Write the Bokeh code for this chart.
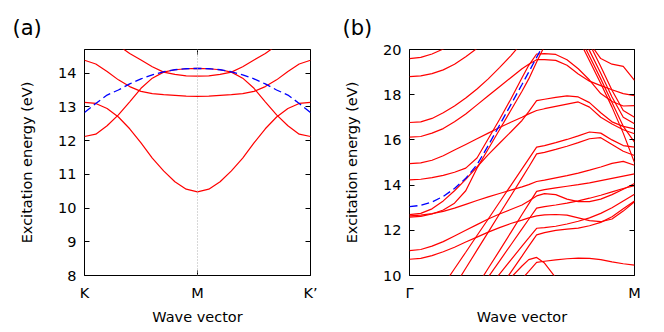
import numpy as np
from bokeh.plotting import figure
from bokeh.models import Range1d, FixedTicker, LinearAxis, Span
from bokeh.layouts import row
from bokeh.embed import file_html
from bokeh.resources import INLINE

FONT = "DejaVu Sans"
RED = "#ff0000"
BLUE = "#0000ff"
N = None

# ---------------- panel (a): K -> M (M -> K' is the mirror image) ----------------
a_k = [0.0, 0.1, 0.2, 0.3, 0.4, 0.5, 0.6, 0.7, 0.8, 0.9, 1.0]
a_ticks = [0, 1, 2]
a_tick_labels = ["K", "M", "K\u2019"]
a_yticks = [8, 9, 10, 11, 12, 13, 14]
a_red_1 = [13.13, 13.10, 12.95, 12.70, 12.35, 11.93, 11.48, 11.10, 10.78, 10.56, 10.48]
a_red_2 = [12.12, 12.19, 12.44, 12.76, 13.15, 13.55, 13.85, 14.03, 14.10, 14.13, 14.14]
a_red_3 = [14.38, 14.27, 14.05, 13.80, 13.60, 13.46, 13.39, 13.36, 13.34, 13.32, 13.31]
a_red_4 = [N, N, 15.05, 14.82, 14.58, 14.39, 14.19, 14.03, 13.96, 13.92, 13.91]
a_blue = [12.83, 13.10, 13.35, 13.50, 13.68, 13.83, 13.95, 14.04, 14.10, 14.13, 14.14]

# ---------------- panel (b): Gamma -> M ----------------
b_k = [0, .05, .1, .15, .2, .25, .3, .35, .4, .45, .5, .53, .565,
       .6, .65, .7, .75, .8, .85, .9, .95, 1.0]
b_ticks = [0, 1]
b_tick_labels = ["\u0393", "M"]
b_yticks = [10, 12, 14, 16, 18, 20]
b_red_01 = [19.6, 19.65, 19.8, 20.02, 20.3] + [N] * 17
b_red_02 = [18.8, 18.83, 18.93, 19.1, 19.35, 19.68, 20.05, 20.5] + [N] * 14
b_red_03 = [16.77, 16.8, 16.95, 17.2, 17.5, 17.85, 18.25, 18.7, 19.2, 19.72, 20.3] + [N] * 11
b_red_04 = [16.12, 16.15, 16.3, 16.5, 16.8, 17.15, 17.55, 17.95, 18.35, 18.75, 19.15, 19.35, 19.55,
            19.55, 19.52, 19.3, 18.92, 18.6, 18.4, 18.22, 18.05, 17.96]
b_red_05 = [14.23, 14.26, 14.33, 14.43, 14.57, 14.75, 15.2, 16.05, 16.9, 17.8, 18.75, 19.3, 19.8,
            19.82, 19.78, 19.55, 19.15, 18.65, 18.05, 17.7, 17.5, 17.52]
b_red_06 = [12.58, 12.62, 12.72, 12.9, 13.2, 13.75, 14.75, 15.6, 16.45, 17.3, 18.15, 18.7, 19.45,
            20.15] + [N] * 8
b_red_07 = [14.95, 14.98, 15.1, 15.3, 15.55, 15.8, 16.05, 16.3, 16.55, 16.78, 17.0, 17.15, 17.3,
            17.38, 17.48, 17.58, 17.68, 17.45, 17.0, 16.7, 16.45, 16.27]
b_red_08 = [12.69, 12.75, 12.95, 13.3, 13.75, 14.25, 14.8, 15.35, 15.85, 16.35, 16.86, 17.25, 17.74,
            17.8, 17.88, 17.95, 17.9, 17.65, 17.2, 16.8, 16.6, 16.49]
b_red_09 = [12.64, 12.67, 12.74, 12.84, 12.98, 13.15, 13.32, 13.48, 13.63, 13.78, 13.92, 14.02, 14.16,
            14.22, 14.32, 14.42, 14.53, 14.66, 14.8, 14.96, 15.05, 14.88]
b_red_10 = [11.1, 11.15, 11.3, 11.5, 11.75, 12.0, 12.25, 12.5, 12.72, 12.92, 13.12, 13.3, 13.52,
            13.62, 13.58, 13.38, 13.27, 13.27, 13.38, 13.58, 13.82, 14.07]
b_red_11 = [10.72, 10.76, 10.88, 11.05, 11.25, 11.48, 11.7, 11.92, 12.12, 12.3, 12.45, 12.55, 12.64,
            12.68, 12.7, 12.67, 12.55, 12.43, 12.38, 12.5, 12.85, 13.26]
b_red_12 = [N, N, N, 9.56, 10.3, 11.03, 11.77, 12.5, 13.24, 13.98, 14.72, 15.16, 15.68,
            15.75, 15.88, 16.02, 16.18, 16.35, 16.3, 16.0, 15.75, 15.68]
b_red_13 = [N, N, N, N, 9.52, 10.32, 11.12, 11.92, 12.72, 13.52, 14.32, 14.8, 15.38,
            15.45, 15.58, 15.72, 15.88, 16.05, 16.1, 15.8, 15.5, 15.31]
b_red_14 = [N, N, N, N, N, N, 9.53, 10.32, 11.1, 11.9, 12.7, 13.17, 13.72,
            13.8, 13.88, 13.95, 14.02, 14.1, 14.2, 14.3, 14.4, 14.5]
b_red_15 = [N, N, N, N, N, N, N, 9.93, 10.64, 11.35, 12.06, 12.49, 12.98,
            13.05, 13.12, 13.2, 13.3, 13.42, 13.55, 13.7, 13.85, 13.98]
b_red_16 = [N, N, N, N, N, N, N, 9.45, 10.06, 10.68, 11.3, 11.66, 12.09,
            12.12, 12.18, 12.28, 12.4, 12.55, 12.75, 13.0, 13.3, 13.6]
b_red_17 = [N, N, N, N, N, N, N, N, 9.42, 10.14, 10.86, 11.3, 11.8,
            11.9, 12.0, 12.05, 12.1, 12.2, 12.35, 12.6, 12.95, 13.3]
b_red_18 = [N, N, N, N, N, N, N, N, 9.4, 9.9, 10.42, 10.7, 10.8,
            10.55, 9.9, 9.3, N, N, N, N, N, N]
b_red_19 = [N, N, N, N, N, N, N, N, N, 9.35, 9.85, 10.18, 10.58,
            10.63, 10.69, 10.74, 10.77, 10.76, 10.7, 10.6, 10.52, 10.46]
b_red_20 = [N] * 15 + [21.5, 20.5, 19.5, 18.5, 17.45, 16.3, 15.0]
b_red_21 = [N] * 15 + [21.7, 20.7, 19.7, 18.7, 17.65, 16.6, 15.9]
b_red_22 = [N] * 15 + [21.95, 20.95, 19.95, 18.95, 17.9, 17.0, 16.71]
b_red_23 = [N] * 16 + [21.25, 20.25, 19.25, 18.2, 17.3, 17.0]
b_red_24 = [N] * 16 + [21.3, 20.3, 19.6, 19.35, 19.25, 18.63]
b_blue = [13.05, 13.1, 13.25, 13.5, 13.85, 14.3, 14.9, 15.75, 16.65, 17.55, 18.45, 19.0, 19.65,
          20.3] + [N] * 8

b_red = [b_red_01, b_red_02, b_red_03, b_red_04, b_red_05, b_red_06, b_red_07, b_red_08,
         b_red_09, b_red_10, b_red_11, b_red_12, b_red_13, b_red_14, b_red_15, b_red_16,
         b_red_17, b_red_18, b_red_19, b_red_20, b_red_21, b_red_22, b_red_23, b_red_24]


def arr(v):
    return np.array(v, dtype=float)


def mirror(k, e):
    # the K' half of the path repeats the K half
    kk = list(k) + [2.0 - x for x in reversed(k[:-1])]
    ee = list(e) + list(reversed(e[:-1]))
    return arr(kk), arr(ee)


def style(p, xticks, xlabels, yticks, panel_text, title_offset):
    p.outline_line_color = "black"
    p.outline_line_width = 1
    p.grid.visible = False
    p.xaxis.ticker = FixedTicker(ticks=xticks)
    p.xaxis.major_label_overrides = {t: l for t, l in zip(xticks, xlabels)}
    p.yaxis.ticker = FixedTicker(ticks=yticks)
    p.xaxis.axis_label = "Wave vector"
    p.yaxis.axis_label = "Excitation energy (eV)"
    for ax in (p.xaxis[0], p.yaxis[0]):
        ax.axis_line_color = None
        ax.major_tick_in = 5
        ax.major_tick_out = 0
        ax.minor_tick_in = 0
        ax.minor_tick_out = 0
        ax.major_tick_line_color = "black"
        ax.major_label_text_font = FONT
        ax.major_label_text_font_size = "14.5px"
        ax.major_label_text_color = "black"
        ax.axis_label_text_font = FONT
        ax.axis_label_text_font_size = "14.5px"
        ax.axis_label_text_font_style = "normal"
        ax.axis_label_text_color = "black"
    p.xaxis.major_label_standoff = 9
    p.xaxis.axis_label_standoff = 5
    p.yaxis.major_label_standoff = 8
    p.yaxis.axis_label_standoff = 20
    # mirrored ticks on the right side (and on top)
    r = LinearAxis(ticker=FixedTicker(ticks=yticks))
    t = LinearAxis(ticker=FixedTicker(ticks=xticks))
    for ax in (r, t):
        ax.axis_line_color = None
        ax.major_tick_in = 5
        ax.major_tick_out = 0
        ax.minor_tick_in = 0
        ax.minor_tick_out = 0
        ax.major_label_text_font_size = "0px"
        ax.major_label_standoff = 0
        ax.major_tick_line_color = "black"
    t.major_label_overrides = {x: "" for x in xticks}
    r.major_label_overrides = {y: "" for y in yticks}
    p.add_layout(r, "right")
    p.add_layout(t, "above")
    p.title.text = panel_text
    p.title.text_font = FONT
    p.title.text_font_size = "21px"
    p.title.text_font_style = "normal"
    p.title.text_color = "black"
    p.title.align = "left"
    p.title.offset = title_offset
    p.title.standoff = 20


common = dict(width=332, height=332, output_backend="svg", toolbar_location=None,
              min_border_top=49, min_border_bottom=57,
              background_fill_color="white", border_fill_color="white")

pa = figure(x_range=Range1d(0, 2), y_range=Range1d(8, 14.7),
            min_border_left=84, min_border_right=22, **common)
style(pa, a_ticks, a_tick_labels, a_yticks, "(a)", -72)
pa.add_layout(Span(location=1, dimension="height", line_color="#b0b0b0",
                   line_dash="1 2", line_width=1))
for band in (a_red_1, a_red_2, a_red_3, a_red_4):
    x, y = mirror(a_k, band)
    pa.line(x, y, line_color=RED, line_width=1.2)
x, y = mirror(a_k, a_blue)
pa.line(x, y, line_color=BLUE, line_width=1.3, line_dash="8 4")

pb = figure(x_range=Range1d(0, 1), y_range=Range1d(10, 20),
            min_border_left=77, min_border_right=30, **common)
style(pb, b_ticks, b_tick_labels, b_yticks, "(b)", -67)
for band in b_red:
    pb.line(arr(b_k), arr(band), line_color=RED, line_width=1.2)
pb.line(arr(b_k), arr(b_blue), line_color=BLUE, line_width=1.3, line_dash="8 4")

layout = row(pa, pb)
open("out.html", "w").write(file_html(layout, INLINE))
